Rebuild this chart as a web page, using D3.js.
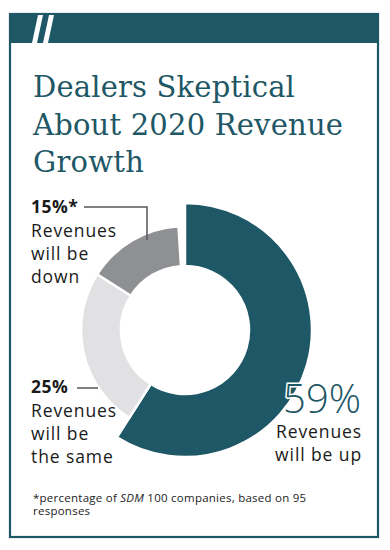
<!DOCTYPE html>
<html><head><meta charset="utf-8">
<script src="https://cdn.jsdelivr.net/npm/d3@7"></script>
<style>
html,body{margin:0;padding:0;background:#fff;}
svg{display:block;}
</style></head>
<body>
<svg id="c" width="390" height="550"></svg>
<script>
const titleLines = ["Dealers Skeptical", "About 2020 Revenue", "Growth"];
const categories = ["Revenues will be up", "Revenues will be the same", "Revenues will be down"];
const values = [59, 25, 15];
const pctLabels = ["59%", "25%", "15%*"];
const upLines = ["Revenues", "will be up"];
const sameLines = ["Revenues", "will be", "the same"];
const downLines = ["Revenues", "will be", "down"];
const footnote = ["*percentage of ", "SDM", " 100 companies, based on 95"];
const footnote2 = "responses";

const TEAL = "#1e5765";
const colors = [TEAL, "#e1e1e3", "#8f9093"];
const outerR = [127, 104, 104];
const innerR = 64;
const cx = 185, cy = 330;

const svg = d3.select("#c");
const sans = "'Open Sans', 'Noto Sans', sans-serif";

// frame
svg.append("rect").attr("x", 10).attr("y", 14).attr("width", 368).attr("height", 523)
  .attr("fill", "#fff").attr("stroke", TEAL).attr("stroke-width", 2.2);
svg.append("rect").attr("x", 9).attr("y", 13).attr("width", 370).attr("height", 30).attr("fill", TEAL);
// slashes
[[38, 32], [49, 43]].forEach(([t, b]) => {
  svg.append("path").attr("d", `M${t},15 L${t+5},15 L${b+5},43 L${b},43 Z`).attr("fill", "#fff");
});

// title
const title = svg.append("g");
titleLines.forEach((l, i) => {
  title.append("text").attr("x", 33).attr("y", 97 + i * 37.5)
    .attr("font-family", "'DejaVu Serif', serif").attr("font-size", 29)
    .attr("fill", TEAL).text(l);
});
const tnodes = title.selectAll("text").nodes();
const sx = 310 / tnodes[1].getComputedTextLength();
tnodes.forEach(n => n.setAttribute("textLength", n.getComputedTextLength() * sx));

// donut (percentages of 100; the missing 1% leaves a gap at the top)
const total = d3.sum(values);
const pie = d3.pie().sort(null).value(d => d)
  .startAngle(0).endAngle(2 * Math.PI * total / 100)(values);
const g = svg.append("g").attr("transform", `translate(${cx},${cy})`);
g.selectAll("path").data(pie).join("path")
  .attr("d", (d, i) => d3.arc().innerRadius(innerR).outerRadius(outerR[i])(d))
  .attr("fill", (d, i) => colors[i])
  .attr("stroke", "#fff").attr("stroke-width", 2.5);

// labels
const LS = 0.9;
function block(x, y0, pct, lines, anchor) {
  svg.append("text").attr("x", x).attr("y", y0).attr("font-family", sans)
    .attr("font-weight", 700).attr("font-size", 17.5).attr("fill", "#1a1a1a")
    .attr("letter-spacing", 0.5).attr("text-anchor", anchor).text(pct);
  lines.forEach((l, i) => svg.append("text").attr("x", x).attr("y", y0 + 24 + i * 23)
    .attr("font-family", sans).attr("font-size", 17.5).attr("fill", "#1a1a1a")
    .attr("letter-spacing", LS).attr("text-anchor", anchor).text(l));
}
block(31, 213, pctLabels[2], downLines, "start");
block(31, 393, pctLabels[1], sameLines, "start");

// leader lines
svg.append("path").attr("d", "M84,207 H147 V240").attr("fill", "none")
  .attr("stroke", "#555").attr("stroke-width", 1.5);
svg.append("path").attr("d", "M77,388 H98").attr("fill", "none")
  .attr("stroke", "#555").attr("stroke-width", 1.5);

// 59%
svg.append("text").attr("x", 361).attr("y", 413).attr("text-anchor", "end")
  .attr("font-family", sans).attr("font-weight", 300).attr("font-size", 40)
  .attr("fill", TEAL).attr("stroke", "#fff").attr("stroke-width", 3)
  .attr("paint-order", "stroke").text(pctLabels[0]);
upLines.forEach((l, i) => svg.append("text").attr("x", 362).attr("y", 438 + i * 23)
  .attr("text-anchor", "end").attr("font-family", sans).attr("font-size", 17.5)
  .attr("letter-spacing", LS).attr("fill", "#1a1a1a").text(l));

// footnote
const fn = svg.append("text").attr("x", 33).attr("y", 502).attr("font-family", sans)
  .attr("font-size", 11.5).attr("letter-spacing", 0.25).attr("fill", "#222");
footnote.forEach((t, i) => fn.append("tspan").attr("font-style", i === 1 ? "italic" : null).text(t));
svg.append("text").attr("x", 33).attr("y", 515).attr("font-family", sans)
  .attr("font-size", 11.5).attr("letter-spacing", 0.25).attr("fill", "#222").text(footnote2);
</script>
</body></html>
